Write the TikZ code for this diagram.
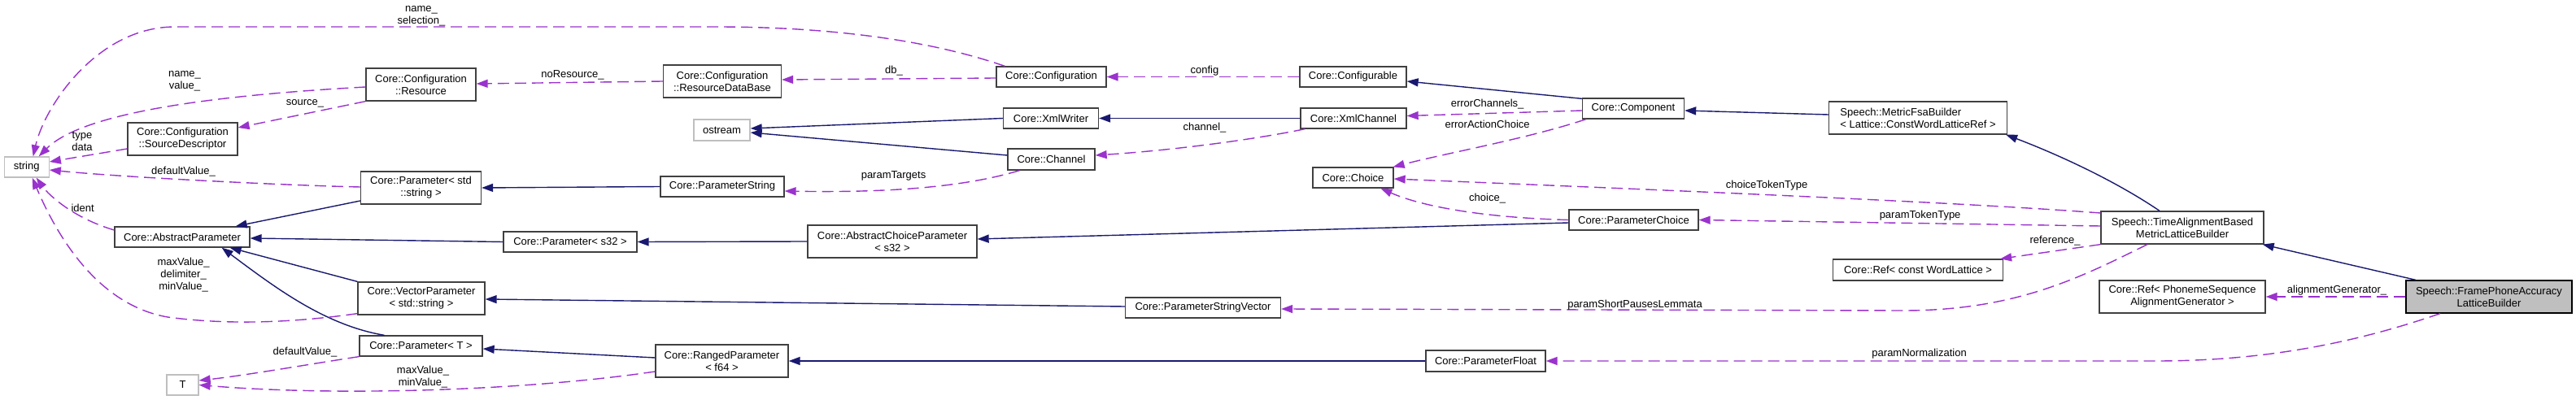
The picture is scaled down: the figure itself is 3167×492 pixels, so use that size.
\documentclass[tikz,border=0pt]{standalone}
\usepackage{fontspec}
\setmainfont{Liberation Sans}
\usetikzlibrary{arrows.meta}
\definecolor{purp}{HTML}{9A32CD}
\definecolor{mblue}{HTML}{191970}
\definecolor{grey75}{HTML}{BFBFBF}
\definecolor{boxline}{HTML}{404040}
\tikzset{
  cls/.style={draw=boxline, line width=1.3pt, inner sep=0pt, align=center, fill=white,
    font=\fontsize{13}{15}\selectfont},
  ext/.style={cls, draw=grey75},
  inh/.style={draw=mblue, line width=1.4pt, -{Triangle[length=14pt,width=10pt]}},
  use/.style={draw=purp, line width=1.4pt, dash pattern=on 14pt off 7pt, -{Triangle[length=14pt,width=10pt]}},
  lbl/.style={inner sep=0pt, align=center, font=\fontsize{13}{15}\selectfont}
}
\begin{document}
\begin{tikzpicture}[x=1pt,y=-1pt]
\useasboundingbox (0,0) rectangle (3167,492);
% nodes
\node[ext, minimum width=55pt, minimum height=25pt] (string) at (32.7,205.5) {string};
\node[cls, minimum width=135pt, minimum height=40pt] (sd) at (224.5,171) {Core::Configuration\\::SourceDescriptor};
\node[cls, minimum width=166pt, minimum height=25pt] (ap) at (224,291.5) {Core::AbstractParameter};
\node[ext, minimum width=39pt, minimum height=25pt] (tnode) at (224.5,473.5) {T};
\node[cls, minimum width=135pt, minimum height=40pt] (res) at (517.5,104) {Core::Configuration\\::Resource};
\node[cls, minimum width=148pt, minimum height=40pt] (pstd) at (517.5,231) {Core::Parameter< std\\::string >};
\node[cls, minimum width=156pt, minimum height=40pt] (vp) at (518,367) {Core::VectorParameter\\< std::string >};
\node[cls, minimum width=151pt, minimum height=25pt] (pt) at (517.5,425.5) {Core::Parameter< T >};
\node[cls, minimum width=145pt, minimum height=40pt] (rdb) at (888,100) {Core::Configuration\\::ResourceDataBase};
\node[ext, minimum width=69pt, minimum height=26pt] (os) at (887.5,160) {ostream};
\node[cls, minimum width=152pt, minimum height=25pt] (ps) at (888,229.5) {Core::ParameterString};
\node[cls, minimum width=164pt, minimum height=25pt] (ps32) at (701,297.5) {Core::Parameter< s32 >};
\node[cls, minimum width=208pt, minimum height=40pt] (acp) at (1097,297) {Core::AbstractChoiceParameter\\< s32 >};
\node[cls, minimum width=163pt, minimum height=40pt] (rp) at (887.5,444) {Core::RangedParameter\\< f64 >};
\node[cls, minimum width=135pt, minimum height=25pt] (config) at (1292.5,94.5) {Core::Configuration};
\node[cls, minimum width=117pt, minimum height=25pt] (xw) at (1292,145.5) {Core::XmlWriter};
\node[cls, minimum width=107pt, minimum height=26pt] (ch) at (1292.5,196) {Core::Channel};
\node[cls, minimum width=191pt, minimum height=25pt] (psv) at (1479,378.5) {Core::ParameterStringVector};
\node[cls, minimum width=131pt, minimum height=25pt] (cfgable) at (1663.5,94.5) {Core::Configurable};
\node[cls, minimum width=130pt, minimum height=25pt] (xc) at (1664,145.5) {Core::XmlChannel};
\node[cls, minimum width=125pt, minimum height=25pt] (comp) at (2008,133.5) {Core::Component};
\node[cls, minimum width=99pt, minimum height=25pt] (choice) at (1663.5,218.5) {Core::Choice};
\node[cls, minimum width=159pt, minimum height=25pt] (pc) at (2008.5,270.5) {Core::ParameterChoice};
\node[cls, minimum width=147pt, minimum height=26pt] (pf) at (1826.5,444) {Core::ParameterFloat};
\node[cls, align=left, minimum width=219pt, minimum height=40pt] (mfb) at (2358,145) {Speech::MetricFsaBuilder\\< Lattice::ConstWordLatticeRef >};
\node[cls, minimum width=200pt, minimum height=40pt] (tab) at (2683,280) {Speech::TimeAlignmentBased\\MetricLatticeBuilder};
\node[cls, minimum width=209pt, minimum height=26pt] (refwl) at (2358,332) {Core::Ref< const WordLattice >};
\node[cls, minimum width=204pt, minimum height=40pt] (refps) at (2683,365) {Core::Ref< PhonemeSequence\\AlignmentGenerator >};
\node[cls, fill=grey75, draw=black, minimum width=204pt, minimum height=40pt] (fpa) at (3060,365) {Speech::FramePhoneAccuracy\\LatticeBuilder};
% inheritance
\draw[inh] ([yshift=-16pt]pstd.west) -- ([xshift=-18pt]ap.north east);
\draw[inh] (ps32.west) -- ([yshift=-1.5pt]ap.east);
\draw[inh] (vp.north west) -- ([xshift=-25pt]ap.south east);
\draw[inh] ([xshift=-45pt]pt.north) .. controls (400,400) and (340,355) .. ([xshift=-35pt]ap.south east);
\draw[inh] (ps.west) -- (pstd.east);
\draw[inh] (xw.west) -- ([yshift=2pt]os.east);
\draw[inh] ([yshift=5pt]ch.west) -- ([yshift=-3pt]os.east);
\draw[inh] (acp.west) -- (ps32.east);
\draw[inh] ([yshift=-3.5pt]pc.west) -- ([yshift=3pt]acp.east);
\draw[inh] ([yshift=1.5pt]psv.west) -- ([yshift=-1pt]vp.east);
\draw[inh] ([yshift=4pt]rp.west) -- ([yshift=-3.5pt]pt.east);
\draw[inh] (pf.west) -- (rp.east);
\draw[inh] (xc.west) -- (xw.east);
\draw[inh] ([yshift=-1pt]comp.north west) -- ([yshift=-5.5pt]cfgable.east);
\draw[inh] ([yshift=4pt]mfb.west) -- ([yshift=-2.5pt]comp.east);
\draw[inh] ([xshift=-28pt]tab.north) .. controls (2600,222) and (2530,190) .. ([xshift=-2pt]mfb.south east);
\draw[inh] ([xshift=-90pt]fpa.north) -- ([xshift=-2pt]tab.south east);
% usage
\draw[use] ([xshift=11pt]config.north west) .. controls (1130,45) and (1000,33) .. (880,33) -- (215,33) .. controls (120,33) and (55,130) .. ([xshift=8pt]string.north);
\draw[use] ([yshift=-3pt]res.west) .. controls (250,118) and (100,140) .. ([xshift=15pt]string.north);
\draw[use] ([yshift=-12pt]sd.west) -- ([yshift=6.5pt]string.east);
\draw[use] (res.south west) -- ([yshift=14pt]sd.east);
\draw[use] ([yshift=1pt]pstd.west) .. controls (350,228) and (150,218) .. ([yshift=-3.5pt]string.east);
\draw[use] ([yshift=8.5pt]ap.west) .. controls (90,268) and (60,240) .. ([xshift=12pt]string.south);
\draw[use] ([yshift=2pt]vp.south west) .. controls (360,397) and (280,400) .. (206,390) .. controls (120,375) and (70,290) .. ([xshift=7pt]string.south);
\draw[use] (rdb.west) -- ([yshift=1pt]res.east);
\draw[use] ([yshift=-1.5pt]config.west) -- ([yshift=2pt]rdb.east);
\draw[use] (cfgable.west) -- (config.east);
\draw[use] ([xshift=6pt]xc.south west) .. controls (1540,172) and (1440,185) .. ([yshift=5pt]ch.east);
\draw[use] ([xshift=-39pt]ch.south) .. controls (1180,232) and (1080,237) .. ([yshift=-5.5pt]ps.east);
\draw[use] ([yshift=-2.5pt]comp.west) -- ([yshift=3pt]xc.east);
\draw[use] ([xshift=5pt]comp.south west) .. controls (1880,170) and (1780,188) .. ([xshift=-1pt]choice.north east);
\draw[use] (pc.west) .. controls (1830,268) and (1750,255) .. ([xshift=34pt]choice.south);
\draw[use] ([yshift=18pt]tab.west) .. controls (2400,248) and (2000,232) .. ([yshift=-1.5pt]choice.east);
\draw[use] ([yshift=2pt]tab.west) -- (pc.east);
\draw[use] (tab.south west) -- ([xshift=-4pt]refwl.north east);
\draw[use] ([xshift=-43pt]tab.south) .. controls (2560,340) and (2480,382) .. (2340,382) -- ([yshift=-1.5pt]psv.east);
\draw[use] (fpa.west) -- (refps.east);
\draw[use] ([xshift=-60pt]fpa.south) .. controls (2900,420) and (2790,444) .. (2650,444) -- (pf.east);
\draw[use] (pt.south west) .. controls (380,448) and (300,462) .. ([yshift=5.5pt]tnode.east);
\draw[use] ([yshift=-13pt]rp.west) .. controls (650,480) and (420,488) .. (tnode.east);
% labels
\node[lbl] (la) at (518,20) {name\_\\selection\_};
\node[lbl] (lb) at (227,100) {name\_\\value\_};
\node[lbl] (lc) at (101,173.5) {type\\data};
\node[lbl] (ld) at (375,127) {source\_};
\node[lbl] (le) at (225.5,211) {defaultValue\_};
\node[lbl] (lf) at (101.6,255.7) {ident};
\node[lbl] (lg) at (225.6,338) {maxValue\_\\delimiter\_\\minValue\_};
\node[lbl] (lh) at (704,92) {noResource\_};
\node[lbl] (li) at (1099,87) {db\_};
\node[lbl] (lj) at (1481,87) {config};
\node[lbl] (lk) at (1481,157) {channel\_};
\node[lbl] (ll) at (1098.5,216.7) {paramTargets};
\node[lbl] (lm) at (1828.6,127.7) {errorChannels\_};
\node[lbl] (ln) at (1828.6,152.7) {errorActionChoice};
\node[lbl] (lo) at (1828.6,244) {choice\_};
\node[lbl] (lp) at (2172,227.7) {choiceTokenType};
\node[lbl] (lq) at (2360.6,265) {paramTokenType};
\node[lbl] (lr) at (2526.6,295.7) {reference\_};
\node[lbl] (ls) at (2010,375) {paramShortPausesLemmata};
\node[lbl] (lt) at (2873,356.7) {alignmentGenerator\_};
\node[lbl] (lu) at (2359.6,435.3) {paramNormalization};
\node[lbl] (lv) at (375,432.7) {defaultValue\_};
\node[lbl] (lw) at (520,464) {maxValue\_\\minValue\_};
\end{tikzpicture}
\end{document}
